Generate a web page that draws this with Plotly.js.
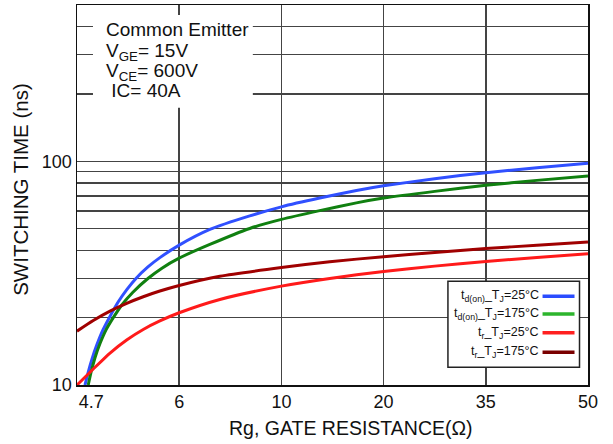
<!DOCTYPE html>
<html><head><meta charset="utf-8">
<script src="https://cdn.plot.ly/plotly-3.0.1.min.js"></script>
<style>html,body{margin:0;padding:0;background:#fff}#chart{width:613px;height:444px}</style>
</head><body><div id="chart"></div>
<script>
// x positions are in the chart's equally spaced tick units (0 = left edge, 1 = "6", 2 = "10", 3 = "20", 4 = "35", 5 = "50")
const xTickLabels = ['4.7', '6', '10', '20', '35', '50'];
const xTickPos = [0.14, 1, 2, 3, 4, 5];
const xGridPos = [1, 2, 3, 4];
const yTickVals = [10, 100];
const yTickText = ['10', '100'];
const yGridVals = [20, 30, 40, 50, 60, 70, 80, 90, 200, 300, 400];

const tdon25_x = [0.078, 0.108, 0.147, 0.196, 0.254, 0.316, 0.401, 0.489, 0.577, 0.694, 0.811, 1.0, 1.3, 1.69, 2.0, 2.375, 2.734, 3.0, 3.5, 4.0, 4.5, 5.0];
const tdon25_y = [10, 11.34, 13.09, 15.19, 17.63, 20, 23.44, 26.78, 29.96, 33.73, 37.1, 42.2, 49.6, 57.0, 62.6, 68.5, 74.0, 77.7, 83.6, 89, 93.6, 98];

const tdon175_x = [0.11, 0.137, 0.176, 0.225, 0.283, 0.355, 0.44, 0.547, 0.697, 0.831, 1.0, 1.3, 1.69, 2.0, 2.375, 2.734, 3.0, 3.5, 4.0, 4.5, 5.0];
const tdon175_y = [10, 11.38, 13.24, 15.32, 17.6, 20, 22.85, 26.0, 30, 33.3, 36.9, 42.5, 50.1, 55, 60.2, 65.2, 68.5, 73.4, 78.1, 82.2, 86];

const tr25_x = [0.0, 0.159, 0.323, 0.486, 0.648, 0.811, 1.0, 1.398, 2.0, 2.473, 3.0, 3.5, 4.0, 4.5, 5.0];
const tr25_y = [10, 11.79, 13.9, 15.9, 17.72, 19.34, 21.04, 24.13, 27.67, 29.96, 32.19, 34.0, 35.62, 37.2, 38.6];

const tr175_x = [0.0, 0.159, 0.323, 0.486, 0.648, 0.811, 1.0, 1.398, 2.0, 2.473, 3.0, 3.5, 4.0, 4.5, 5.0];
const tr175_y = [17.41, 19.42, 21.39, 23.18, 24.81, 26.31, 27.87, 30.64, 33.51, 35.58, 37.47, 39.15, 40.72, 42.18, 43.55];

const seriesNames = ['t<sub>d(on)</sub>_T<sub>J</sub>=25°C', 't<sub>d(on)</sub>_T<sub>J</sub>=175°C', 't<sub>r</sub>_T<sub>J</sub>=25°C', 't<sub>r</sub>_T<sub>J</sub>=175°C'];
const seriesColors = ['#3050ff', '#108010', '#ff1a1a', '#a00000'];
const legendColors = ['#2a4cff', '#2db52d', '#ff2020', '#7a0000'];

const infoLines = ['Common Emitter', 'V<sub>GE</sub>= 15V', 'V<sub>CE</sub>= 600V', ' IC= 40A'];

const xs = [tdon25_x, tdon175_x, tr25_x, tr175_x];
const ys = [tdon25_y, tdon175_y, tr25_y, tr175_y];

const traces = xs.map((x, i) => ({
  x: x, y: ys[i], type: 'scatter', mode: 'lines', name: seriesNames[i],
  line: {color: seriesColors[i], width: 3, shape: 'spline', smoothing: 0.6},
  showlegend: false, hoverinfo: 'skip'
}));

const FONT = 'Liberation Sans, Arial, Helvetica, sans-serif';

// pixel helpers for annotation/box placement in paper coordinates
const L = 77, R = 588.5, T = 5, B = 385.5;
const px = v => (v - L) / (R - L);
const py = v => (B - v) / (B - T);

const shapes = [
  {type: 'rect', xref: 'paper', yref: 'paper', x0: px(93), x1: px(253), y0: py(108), y1: py(15), fillcolor: '#fff', line: {width: 0}, layer: 'above'},
  {type: 'rect', xref: 'paper', yref: 'paper', x0: px(448.3), x1: px(580), y0: py(367.7), y1: py(281.7), fillcolor: '#fff', line: {color: '#222', width: 1.5}, layer: 'above'}
];
const legendRows = [296.7, 314.3, 333.3, 352.7];
legendRows.forEach((r, i) => {
  shapes.push({type: 'line', xref: 'paper', yref: 'paper', x0: px(543), x1: px(575), y0: py(r), y1: py(r), line: {color: legendColors[i], width: 3.5}, layer: 'above'});
});

const annotations = [];
const infoY = [29.7, 51.7, 72, 91];
infoLines.forEach((t, i) => {
  annotations.push({xref: 'paper', yref: 'paper', x: px(104), y: py(infoY[i]), xanchor: 'left', yanchor: 'middle', text: t, showarrow: false, font: {family: FONT, size: 19, color: '#111'}});
});
legendRows.forEach((r, i) => {
  annotations.push({xref: 'paper', yref: 'paper', x: px(541), y: py(r), xanchor: 'right', yanchor: 'middle', text: seriesNames[i], showarrow: false, font: {family: FONT, size: 12.5, color: '#111'}});
});
annotations.push({xref: 'paper', yref: 'paper', x: px(351), y: py(429), xanchor: 'center', yanchor: 'middle', text: 'Rg, GATE RESISTANCE(Ω)', showarrow: false, font: {family: FONT, size: 19.5, color: '#111'}});
annotations.push({xref: 'paper', yref: 'paper', x: px(21), y: py(190), xanchor: 'center', yanchor: 'middle', textangle: -90, text: 'SWITCHING TIME (ns)', showarrow: false, font: {family: FONT, size: 20.5, color: '#111'}});

const layout = {
  width: 613, height: 444,
  margin: {l: L, r: 613 - R, t: T, b: 444 - B},
  paper_bgcolor: '#fff', plot_bgcolor: '#fff',
  showlegend: false,
  xaxis: {
    range: [0, 5], tickmode: 'array', tickvals: xTickPos, ticktext: xTickLabels,
    showgrid: false, zeroline: false, ticks: '',
    showline: true, mirror: true, linecolor: '#111', linewidth: 1.5,
    tickfont: {family: FONT, size: 18, color: '#111'},
    minor: {tickmode: 'array', tickvals: xGridPos, showgrid: true, gridcolor: '#444', gridwidth: 1.5, ticks: ''}
  },
  yaxis: {
    type: 'log', range: [1, Math.log10(500)], tickmode: 'array', tickvals: yTickVals, ticktext: yTickText,
    showgrid: true, gridcolor: '#444', gridwidth: 1.5, zeroline: false, ticks: '',
    showline: true, mirror: true, linecolor: '#111', linewidth: 1.5,
    tickfont: {family: FONT, size: 18, color: '#111'},
    minor: {tickmode: 'array', tickvals: yGridVals, showgrid: true, gridcolor: '#444', gridwidth: 1.5, ticks: ''}
  },
  shapes: shapes,
  annotations: annotations
};

Plotly.newPlot('chart', traces, layout, {displayModeBar: false, staticPlot: true});
</script></body></html>
